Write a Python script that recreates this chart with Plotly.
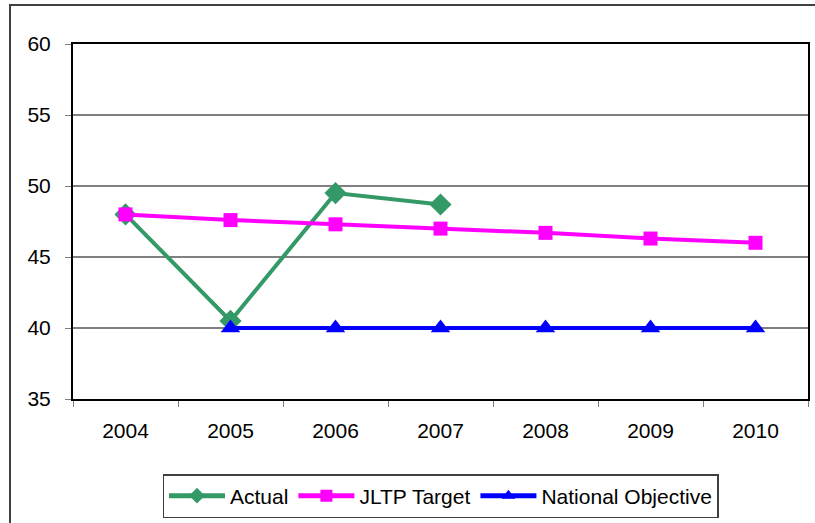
import plotly.graph_objects as go

years = ["2004", "2005", "2006", "2007", "2008", "2009", "2010"]
actual = [48.0, 40.5, 49.5, 48.7, None, None, None]
jltp_target = [48.0, 47.6, 47.3, 47.0, 46.7, 46.3, 46.0]
national_objective = [None, 40.0, 40.0, 40.0, 40.0, 40.0, 40.0]
y_ticks = [35, 40, 45, 50, 55, 60]

W, H = 815, 523
L, R, T, B = 73, 7, 44, 124
pw, ph = W - L - R, H - T - B

fig = go.Figure()
fig.add_trace(go.Scatter(x=years, y=actual, name="Actual", mode="lines+markers",
                         line=dict(color="#339966", width=4),
                         marker=dict(symbol="diamond", size=17, color="#339966")))
fig.add_trace(go.Scatter(x=years, y=jltp_target, name="JLTP Target", mode="lines+markers",
                         line=dict(color="#FF00FF", width=4),
                         marker=dict(symbol="square", size=14, color="#FF00FF")))
fig.add_trace(go.Scatter(x=years, y=national_objective, name="National Objective", mode="lines+markers",
                         line=dict(color="#0000FF", width=4),
                         marker=dict(symbol="triangle-up", size=17, color="#0000FF")))

font = dict(family="Liberation Sans, Arial, sans-serif", size=21, color="black")


def px_x(v):
    return (v - L) / pw


def px_y(v):
    return (H - B - v) / ph


# outer chart border (left and top visible; right/bottom run off page)
fig.add_shape(type="rect", xref="paper", yref="paper",
              x0=px_x(10), x1=px_x(830), y0=px_y(540), y1=px_y(5),
              line=dict(color="#404040", width=2), fillcolor="rgba(0,0,0,0)", layer="below")

fig.update_layout(
    width=W, height=H,
    margin=dict(l=L, r=R, t=T, b=B, autoexpand=False),
    paper_bgcolor="white", plot_bgcolor="white",
    font=font,
    showlegend=True,
    legend=dict(orientation="h", x=0.5, xanchor="center", y=px_y(474), yanchor="top",
                bordercolor="#404040", borderwidth=1.5, bgcolor="white",
                font=font, itemwidth=56, tracegroupgap=0, itemsizing="constant"),
    xaxis=dict(type="category", range=[-0.5, 6.5], showgrid=False, automargin=False,
               ticks="outside", ticklen=6, tickcolor="#808080", tickson="boundaries",
               showline=True, linecolor="black", linewidth=2, mirror=True,
               tickfont=font, ticklabelstandoff=12),
    yaxis=dict(range=[35, 60], tickvals=y_ticks, showgrid=True, gridcolor="#808080", gridwidth=1.5,
               ticks="outside", ticklen=6, tickcolor="#808080", automargin=False,
               showline=True, linecolor="black", linewidth=2, mirror=True,
               zeroline=False, tickfont=font, ticklabelstandoff=10),
)

fig.write_html("out.html", config={"displayModeBar": False},
               post_script="document.body.style.margin='0';document.body.style.overflow='hidden';")
